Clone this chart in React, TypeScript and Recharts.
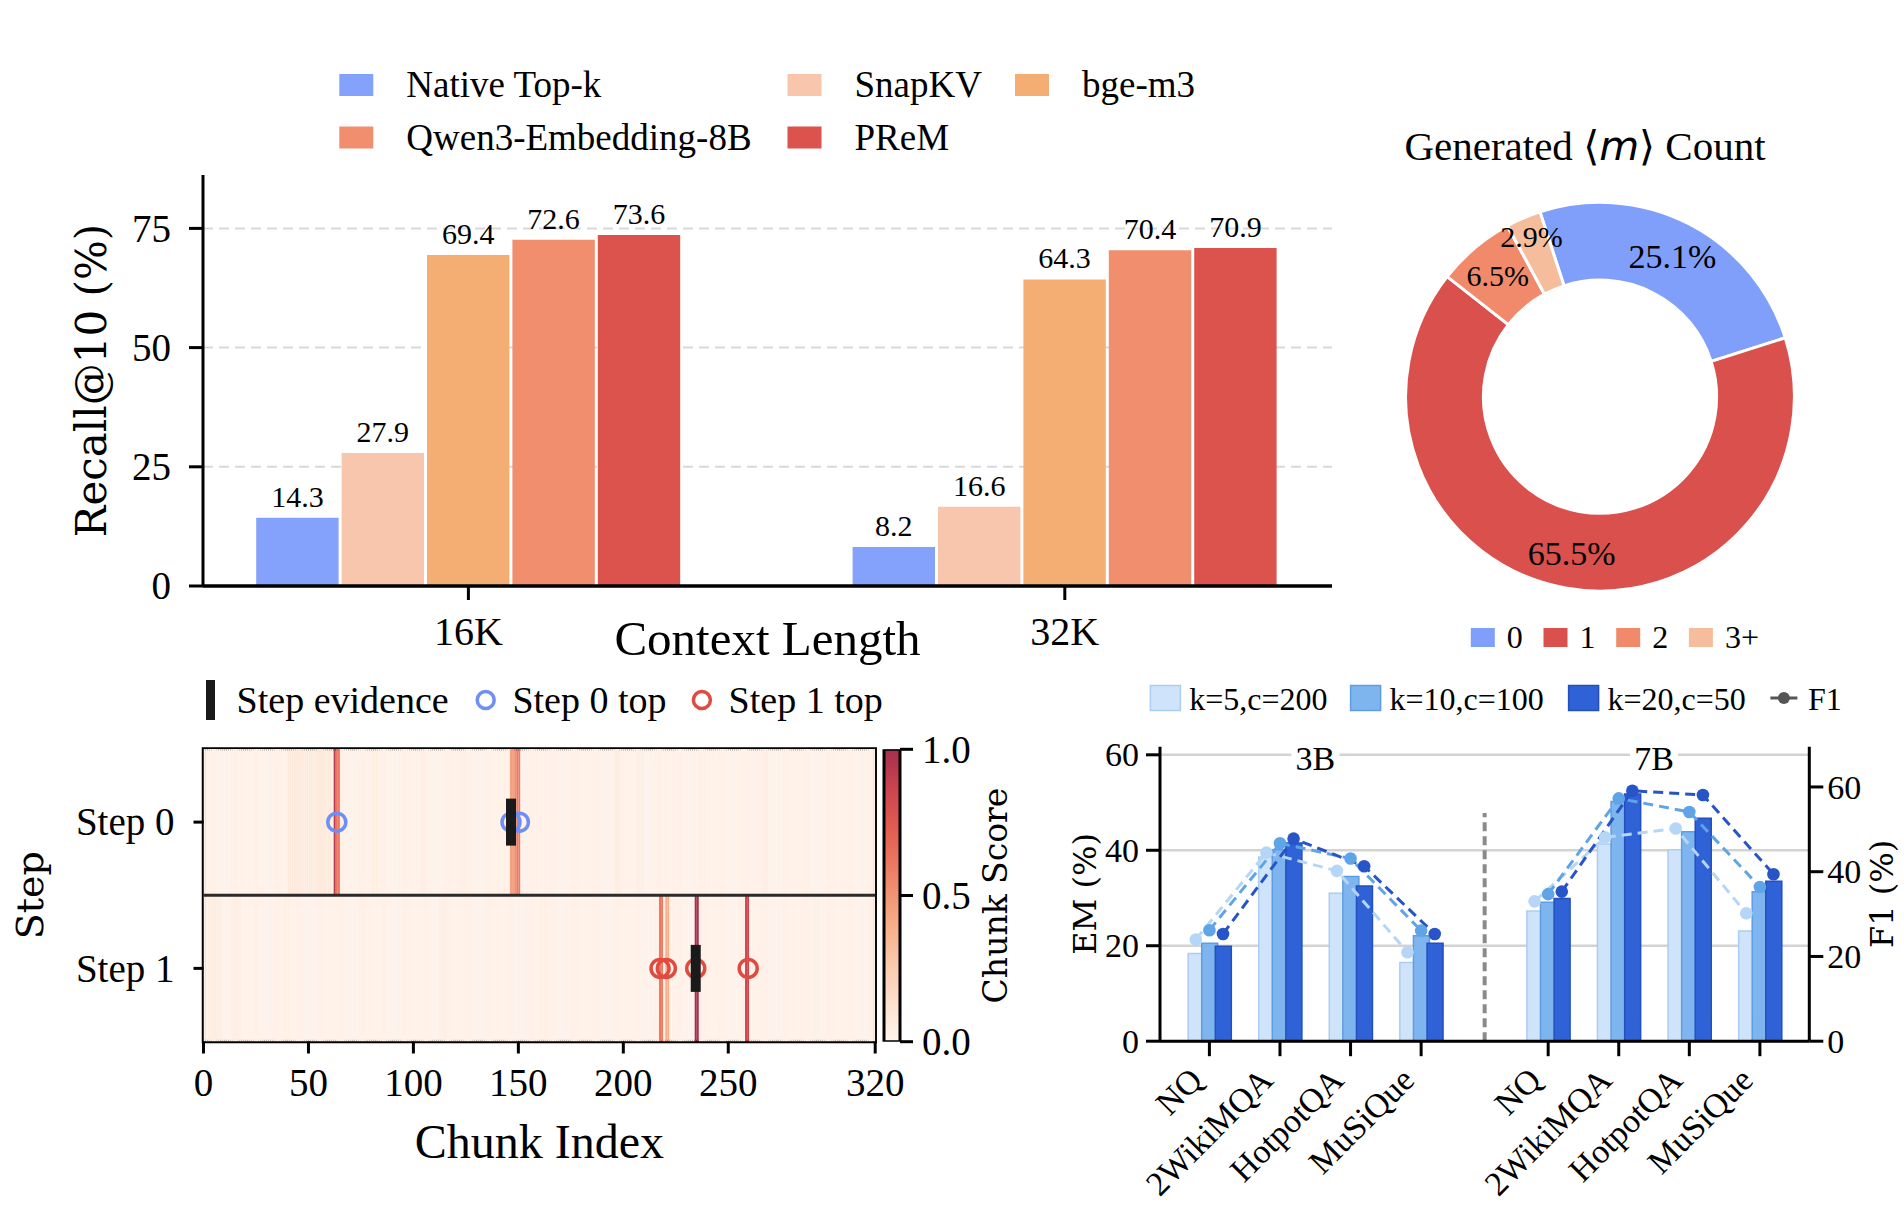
import React from "react";
import {
  ComposedChart,
  Bar,
  Line,
  Scatter,
  XAxis,
  YAxis,
  CartesianGrid,
  PieChart,
  Pie,
  Cell,
  ReferenceLine,
  ReferenceArea,
  ReferenceDot,
  LabelList,
} from "recharts";

const PAGE_W = 1904;
const PAGE_H = 1232;
const SERIF = '"Liberation Serif", "Times New Roman", serif';
const WIDE_SERIF = '"DejaVu Serif", serif';
const MATH_SANS = '"DejaVu Sans", sans-serif';

// ---- Recall@10 by context length ----
const contextLengths = ["16K", "32K"];
const methodNames = ["Native Top-k", "SnapKV", "bge-m3", "Qwen3-Embedding-8B", "PReM"];
const methodKeys = ["native", "snapkv", "bge", "qwen", "prem"];
const methodColors = ["#84a1fb", "#f7c6ad", "#f4ad72", "#f08e6e", "#dc534d"];
const recall16K = [14.3, 27.9, 69.4, 72.6, 73.6];
const recall32K = [8.2, 16.6, 64.3, 70.4, 70.9];
const recallTicks = [0, 25, 50, 75];

// ---- generated <m> count ----
const countLabels = ["0", "1", "2", "3+"];
const countShares = [25.1, 65.5, 6.5, 2.9];
const countColors = ["#7f9ffa", "#d9504c", "#f08a6b", "#f5bd9c"];

// ---- chunk scores per retrieval step ----
const chunkCount = 320;
const chunkTicks = [0, 50, 100, 150, 200, 250, 320];
const stepLabels = ["Step 0", "Step 1"];
const scoreTicks = [0, 0.5, 1];
const step0Base = 0.025;
const step1Base = 0.02;
// faint background bands: [first chunk, last chunk, score]
const step0Bands = [
  [40, 60, 0.07],
  [80, 82, 0.045],
  [103, 105, 0.04],
  [121, 124, 0.04],
  [196, 198, 0.045],
  [206, 209, 0.035],
  [266, 268, 0.04],
];
const step1Bands = [
  [2, 8, 0.045],
  [14, 17, 0.04],
  [38, 40, 0.035],
  [112, 115, 0.04],
  [160, 163, 0.035],
  [290, 293, 0.035],
];
// [chunk, score]
const step0Peaks = [
  [62, 0.92],
  [63, 0.62],
  [64, 0.6],
  [146, 0.45],
  [147, 0.45],
  [148, 0.52],
  [149, 0.6],
  [150, 0.6],
];
const step1Peaks = [
  [217, 0.6],
  [218, 0.6],
  [220, 0.4],
  [221, 0.4],
  [234, 1.0],
  [235, 0.98],
  [258, 0.86],
  [259, 0.86],
];
const step0Evidence = [146];
const step1Evidence = [234];
const step0Top = [63, 146, 150];
const step1Top = [217, 220, 234, 259];

// ---- EM / F1 by retrieval config ----
const datasets = ["NQ", "2WikiMQA", "HotpotQA", "MuSiQue"];
const modelSizes = ["3B", "7B"];
const configNames = ["k=5,c=200", "k=10,c=100", "k=20,c=50"];
const configKeys = ["k5", "k10", "k20"];
// 3B datasets followed by 7B datasets
const emK5 = [18.4, 38.6, 31.0, 16.5, 27.3, 41.3, 40.1, 23.1];
const emK10 = [20.5, 40.1, 34.5, 22.1, 29.1, 50.2, 43.9, 31.3];
const emK20 = [19.9, 41.5, 32.5, 20.5, 29.9, 51.8, 46.7, 33.5];
const f1K5 = [24.0, 44.5, 40.2, 21.0, 33.0, 48.1, 50.2, 30.2];
const f1K10 = [26.2, 46.7, 43.1, 26.1, 34.7, 57.3, 54.1, 36.4];
const f1K20 = [25.3, 47.8, 41.3, 25.3, 35.3, 59.1, 58.1, 39.4];
const emTicks = [0, 20, 40, 60];
const f1Ticks = [0, 20, 40, 60];

const configFills = ["#cfe4fb", "#7fb5ee", "#2f62d6"];
const configEdges = ["#aacdf3", "#5f9de3", "#2450bd"];
const configLines = ["#b6d6f7", "#60a4e8", "#2754c6"];

// colormap used by the heatmap and its colorbar
const scoreStops: [number, string][] = [
  [0, "#fff4ec"],
  [0.1, "#fde6d6"],
  [0.25, "#fbcdb0"],
  [0.4, "#f6ad88"],
  [0.5, "#f29574"],
  [0.6, "#ec7a62"],
  [0.75, "#e05850"],
  [0.87, "#c9444f"],
  [1, "#a42f4d"],
];

function hexToRgb(h: string) {
  const n = parseInt(h.slice(1), 16);
  return [(n >> 16) & 255, (n >> 8) & 255, n & 255];
}

function scoreColor(s: number) {
  for (let i = 1; i < scoreStops.length; i++) {
    const [s1, c1] = scoreStops[i];
    if (s <= s1) {
      const [s0, c0] = scoreStops[i - 1];
      const t = (s - s0) / (s1 - s0);
      const a = hexToRgb(c0);
      const b = hexToRgb(c1);
      const m = a.map((v, k) => Math.round(v + (b[k] - v) * t));
      return `rgb(${m[0]},${m[1]},${m[2]})`;
    }
  }
  return scoreStops[scoreStops.length - 1][1];
}

function buildScores(base: number, bands: number[][], peaks: number[][]) {
  const s = new Array(chunkCount).fill(base);
  bands.forEach(([a, b, v]) => {
    for (let i = a; i <= b; i++) s[i] = v;
  });
  peaks.forEach(([i, v]) => (s[i] = v));
  return s;
}

const axisLine = { stroke: "#000", strokeWidth: 3 };
const tickLine = { stroke: "#000", strokeWidth: 3 };

const bottomTick = (format: (v: number) => string, dy: number, size: number) => (p: any) => (
  <text x={p.x} y={p.y + dy} textAnchor="middle" fontFamily={SERIF} fontSize={size} fill="#000">
    {format(p.payload.value)}
  </text>
);

const sideTick = (format: (v: number) => string, dx: number, size: number, anchor: string) => (p: any) => (
  <text x={p.x + dx} y={p.y} dy="0.34em" textAnchor={anchor} fontFamily={SERIF} fontSize={size} fill="#000">
    {format(p.payload.value)}
  </text>
);

const xTitle = (text: string, dy: number, size: number) => (p: any) => {
  const vb = p.viewBox;
  return (
    <text x={vb.x + vb.width / 2} y={vb.y + dy} textAnchor="middle" fontFamily={SERIF} fontSize={size} fill="#000">
      {text}
    </text>
  );
};

const yTitle = (text: string, x: number, size: number) => (p: any) => {
  const vb = p.viewBox;
  const cy = vb.y + vb.height / 2;
  return (
    <text
      transform={`translate(${x},${cy}) rotate(-90)`}
      textAnchor="middle"
      dy="0.35em"
      fontFamily={WIDE_SERIF}
      fontSize={size}
      fill="#000"
    >
      {text}
    </text>
  );
};

function RecallBars() {
  const rows = [recall16K, recall32K].map((vals, i) => {
    const row: Record<string, number> = { x: i };
    methodKeys.forEach((k, j) => (row[k] = vals[j]));
    return row;
  });
  return (
    <ComposedChart
      width={PAGE_W}
      height={PAGE_H}
      data={rows}
      margin={{ top: 175, left: 123, right: 572, bottom: 586 }}
      barGap={3}
    >
      <CartesianGrid vertical={false} syncWithTicks stroke="#d9d9d9" strokeWidth={2} strokeDasharray="10 6" />
      <XAxis
        dataKey="x"
        type="number"
        domain={[-0.445, 1.448]}
        allowDataOverflow
        ticks={[0, 1]}
        interval={0}
        height={60}
        axisLine={{ stroke: "#000", strokeWidth: 3.5 }}
        tickLine={tickLine}
        tickSize={14}
        tick={bottomTick((v) => contextLengths[v], 43, 40)}
        label={xTitle("Context Length", 69, 49)}
      />
      <YAxis
        type="number"
        domain={[0, 86.2]}
        allowDataOverflow
        ticks={recallTicks}
        interval={0}
        width={80}
        axisLine={axisLine}
        tickLine={tickLine}
        tickSize={14}
        tick={sideTick((v) => String(v), -16, 39, "end")}
        label={yTitle("Recall@10 (%)", 91, 42)}
      />
      {methodKeys.map((k, j) => (
        <Bar key={k} dataKey={k} fill={methodColors[j]} barSize={82.4} isAnimationActive={false}>
          <LabelList
            dataKey={k}
            content={(p: any) => (
              <text
                x={p.x + p.width / 2}
                y={p.y - 11}
                textAnchor="middle"
                fontFamily={SERIF}
                fontSize={30}
                fill="#000"
              >
                {Number(p.value).toFixed(1)}
              </text>
            )}
          />
        </Bar>
      ))}
    </ComposedChart>
  );
}

const RAD = Math.PI / 180;

const renderShare = (p: any) => {
  const small = p.percent < 0.05;
  const r = p.outerRadius * (small ? 0.895 : 0.815);
  const x = p.cx + r * Math.cos(-p.midAngle * RAD);
  const y = p.cy + r * Math.sin(-p.midAngle * RAD);
  const v = countShares[p.index];
  return (
    <text
      key={`share-${p.index}`}
      x={x}
      y={y}
      dy="0.35em"
      textAnchor="middle"
      fontFamily={SERIF}
      fontSize={p.percent < 0.1 ? 30 : 34}
      fill="#000"
    >
      {`${v.toFixed(1)}%`}
    </text>
  );
};

function CountDonut() {
  const data = countLabels.map((name, i) => ({ name, value: countShares[i] }));
  return (
    <PieChart width={PAGE_W} height={PAGE_H} margin={{ top: 0, left: 0, right: 0, bottom: 0 }}>
      <Pie
        data={data}
        dataKey="value"
        cx={1600}
        cy={396.7}
        innerRadius={116.6}
        outerRadius={194.4}
        startAngle={108}
        endAngle={-252}
        stroke="#fff"
        strokeWidth={3}
        label={renderShare}
        labelLine={false}
        isAnimationActive={false}
      >
        {countColors.map((c, i) => (
          <Cell key={i} fill={c} />
        ))}
      </Pie>
    </PieChart>
  );
}

const rowCenter = (step: number) => stepLabels.length - step - 0.5;

const ringShape = (color: string) => (p: any) =>
  <circle cx={p.cx} cy={p.cy} r={9} fill="none" stroke={color} strokeWidth={3.5} />;

const evidenceShape = (p: any) => <rect x={p.cx - 5} y={p.cy - 23.5} width={10} height={47} fill="#1a1a1a" />;

function ChunkHeatmap() {
  const scores0 = buildScores(step0Base, step0Bands, step0Peaks);
  const scores1 = buildScores(step1Base, step1Bands, step1Peaks);
  const rows = scores0.map((_, i) => ({ x: i + 0.5, s0: 1, s1: 1 }));
  const mark = (chunks: number[], step: number) => chunks.map((c) => ({ x: c + 0.5, y: rowCenter(step) }));
  const tops0 = mark(step0Top, 0);
  const tops1 = mark(step1Top, 1);
  const evidence = [...mark(step0Evidence, 0), ...mark(step1Evidence, 1)];
  return (
    <ComposedChart
      width={PAGE_W}
      height={PAGE_H}
      data={rows}
      margin={{ top: 749, left: 123.5, right: 1028.8, bottom: 130.5 }}
    >
      <XAxis
        dataKey="x"
        type="number"
        domain={[0, chunkCount]}
        allowDataOverflow
        ticks={chunkTicks}
        interval={0}
        height={60}
        axisLine={false}
        tickLine={tickLine}
        tickSize={12}
        tick={bottomTick((v) => String(v), 40.5, 39)}
        label={xTitle("Chunk Index", 116.5, 48)}
      />
      <XAxis xAxisId="mk" dataKey="x" type="number" domain={[0, chunkCount]} allowDataOverflow hide />
      <YAxis
        dataKey="y"
        type="number"
        domain={[0, 2]}
        allowDataOverflow
        ticks={[0.5, 1.5]}
        interval={0}
        width={80}
        axisLine={false}
        tickLine={tickLine}
        tickSize={10}
        tick={sideTick((v) => stepLabels[stepLabels.length - 1 - Math.floor(v)], -17, 39, "end")}
        label={yTitle("Step", 30, 38)}
      />
      <Bar dataKey="s1" stackId="h" barSize={2.099} isAnimationActive={false}>
        {scores1.map((s, i) => (
          <Cell key={i} fill={scoreColor(s)} />
        ))}
      </Bar>
      <Bar dataKey="s0" stackId="h" barSize={2.099} isAnimationActive={false}>
        {scores0.map((s, i) => (
          <Cell key={i} fill={scoreColor(s)} />
        ))}
      </Bar>
      <ReferenceLine y={1} stroke="#2b2b2b" strokeWidth={3} />
      <ReferenceArea x1={0} x2={chunkCount} y1={0} y2={2} fill="none" stroke="#000" strokeWidth={3.5} />
      <Scatter xAxisId="mk" dataKey="y" data={tops0} shape={ringShape("#6f8ff4")} isAnimationActive={false} />
      <Scatter xAxisId="mk" dataKey="y" data={tops1} shape={ringShape("#df4b40")} isAnimationActive={false} />
      <Scatter xAxisId="mk" dataKey="y" data={evidence} shape={evidenceShape} isAnimationActive={false} />
    </ComposedChart>
  );
}

function ScoreColorbar() {
  return (
    <ComposedChart
      width={PAGE_W}
      height={PAGE_H}
      data={[{ name: "score", v: 1 }]}
      margin={{ top: 749.3, left: 884, right: 924, bottom: 190.3 }}
      barCategoryGap={0}
    >
      <XAxis dataKey="name" hide />
      <YAxis
        orientation="right"
        type="number"
        domain={[0, 1]}
        allowDataOverflow
        ticks={scoreTicks}
        interval={0}
        width={80}
        axisLine={false}
        tickLine={tickLine}
        tickSize={13}
        tick={sideTick((v) => v.toFixed(1), 7, 39, "start")}
        label={yTitle("Chunk Score", 995, 33)}
      />
      <Bar dataKey="v" fill="url(#chunkScoreGradient)" stroke="#000" strokeWidth={3} isAnimationActive={false} />
    </ComposedChart>
  );
}

// x layout of the grouped EM/F1 chart
const GROUP_GAP = 0.8;
const X4_MIN = -0.7;
const X4_MAX = 8.5;
const PLOT4_W = 649.3;
const BAR4_SIZE = 16;
const BAR4_GAP = -2.4;
const groupStride = datasets.length + GROUP_GAP;
const slot = (g: number, i: number) => g * groupStride + i;
const positions4 = modelSizes.flatMap((_, g) => datasets.map((__, i) => slot(g, i)));
const separatorX = (slot(0, datasets.length - 1) + slot(1, 0)) / 2;
const barStepUnits = (BAR4_SIZE + BAR4_GAP) / (PLOT4_W / (X4_MAX - X4_MIN));

const datasetTick = (p: any) => {
  const idx = positions4.findIndex((v) => Math.abs(v - p.payload.value) < 1e-6);
  const name = datasets[idx % datasets.length];
  return (
    <text
      transform={`translate(${p.x - 5},${p.y + 24}) rotate(-45)`}
      textAnchor="end"
      fontFamily={SERIF}
      fontSize={34}
      fill="#000"
    >
      {name}
    </text>
  );
};

const sizeTag = (text: string) => (p: any) => {
  const vb = p.viewBox;
  const x = vb.x + vb.width / 2;
  const y = vb.y + vb.height / 2;
  return (
    <g>
      <rect x={x - 24} y={y - 17} width={48} height={34} fill="#fff" />
      <text x={x} y={y} dy="0.35em" textAnchor="middle" fontFamily={SERIF} fontSize={34} fill="#000">
        {text}
      </text>
    </g>
  );
};

function EmF1Chart() {
  const emSeries = [emK5, emK10, emK20];
  const f1Series = [f1K5, f1K10, f1K20];
  const rows = positions4.map((x, idx) => {
    const row: Record<string, number> = { x };
    configKeys.forEach((k, c) => (row[k] = emSeries[c][idx]));
    return row;
  });
  const f1Lines = configKeys.map((_, c) => {
    const shift = (c - 1) * barStepUnits;
    const pts: { x: number; f1: number | null }[] = [];
    modelSizes.forEach((__, g) => {
      if (g > 0) pts.push({ x: separatorX, f1: null });
      datasets.forEach((___, i) => pts.push({ x: slot(g, i) + shift, f1: f1Series[c][g * datasets.length + i] }));
    });
    return pts;
  });
  return (
    <ComposedChart
      width={PAGE_W}
      height={PAGE_H}
      data={rows}
      margin={{ top: 746.7, left: 1080, right: 14.7, bottom: 130.8 }}
      barGap={BAR4_GAP}
    >
      <CartesianGrid vertical={false} syncWithTicks stroke="#d3d3d3" strokeWidth={2.5} />
      <XAxis
        dataKey="x"
        type="number"
        domain={[X4_MIN, X4_MAX]}
        allowDataOverflow
        ticks={positions4}
        interval={0}
        height={60}
        axisLine={axisLine}
        tickLine={tickLine}
        tickSize={15}
        tick={datasetTick}
      />
      <XAxis xAxisId="pts" dataKey="x" type="number" domain={[X4_MIN, X4_MAX]} allowDataOverflow hide />
      <YAxis
        type="number"
        domain={[0, 61.7]}
        allowDataOverflow
        ticks={emTicks}
        interval={0}
        width={80}
        axisLine={axisLine}
        tickLine={tickLine}
        tickSize={14}
        tick={sideTick((v) => String(v), -5, 34, "end")}
        label={yTitle("EM (%)", 1085, 32)}
      />
      <YAxis
        yAxisId="f1"
        orientation="right"
        type="number"
        domain={[0, 69.5]}
        allowDataOverflow
        ticks={f1Ticks}
        interval={0}
        width={80}
        axisLine={axisLine}
        tickLine={tickLine}
        tickSize={14}
        tick={sideTick((v) => String(v), 2, 34, "start")}
        label={yTitle("F1 (%)", 1882, 32)}
      />
      <ReferenceLine
        segment={[
          { x: separatorX, y: 0 },
          { x: separatorX, y: 47.8 },
        ]}
        stroke="#8a8a8a"
        strokeWidth={4}
        strokeDasharray="9 5"
      />
      {configKeys.map((k, c) => (
        <Bar
          key={k}
          dataKey={k}
          barSize={BAR4_SIZE}
          fill={configFills[c]}
          stroke={configEdges[c]}
          strokeWidth={1.5}
          isAnimationActive={false}
        />
      ))}
      {configKeys.map((k, c) => (
        <Line
          key={`f1-${k}`}
          data={f1Lines[c]}
          xAxisId="pts"
          yAxisId="f1"
          dataKey="f1"
          stroke={configLines[c]}
          strokeWidth={3}
          strokeDasharray="10 6"
          connectNulls={false}
          activeDot={false}
          isAnimationActive={false}
          dot={(p: any) =>
            p.value == null || p.cy == null ? (
              <g key={`d${c}-${p.index}`} />
            ) : (
              <circle key={`d${c}-${p.index}`} cx={p.cx} cy={p.cy} r={6.3} fill={configLines[c]} />
            )
          }
        />
      ))}
      {modelSizes.map((m, g) => (
        <ReferenceDot
          key={m}
          x={slot(g, (datasets.length - 1) / 2)}
          y={59.3}
          r={1}
          fill="none"
          stroke="none"
          label={sizeTag(m)}
        />
      ))}
    </ComposedChart>
  );
}

function Legends() {
  const recallCols = [339.3, 787.5, 1015];
  const recallRows = [85, 137.5];
  const countX0 = 1470.8;
  const countStep = 72.7;
  const cfgX = [1150.4, 1350.6, 1568.6];
  return (
    <svg
      width={PAGE_W}
      height={PAGE_H}
      style={{ position: "absolute", left: 0, top: 0, pointerEvents: "none" }}
    >
      <defs>
        <linearGradient id="chunkScoreGradient" x1="0" y1="1" x2="0" y2="0">
          {scoreStops.map(([s, c]) => (
            <stop key={s} offset={`${s * 100}%`} stopColor={c} />
          ))}
        </linearGradient>
      </defs>

      {/* method legend */}
      {methodNames.map((name, j) => {
        const x = recallCols[j % 3];
        const y = recallRows[Math.floor(j / 3)];
        return (
          <g key={name}>
            <rect x={x} y={y - 11} width={34} height={22} fill={methodColors[j]} />
            <text x={x + 67} y={y + 12} fontFamily={SERIF} fontSize={37} fill="#000">
              {name}
            </text>
          </g>
        );
      })}

      {/* donut title and legend */}
      <text x={1585} y={159.6} textAnchor="middle" fontFamily={SERIF} fontSize={41} fill="#000">
        {"Generated "}
        <tspan fontFamily={MATH_SANS}>⟨</tspan>
        <tspan fontFamily={MATH_SANS} fontStyle="italic">
          m
        </tspan>
        <tspan fontFamily={MATH_SANS}>⟩</tspan>
        {" Count"}
      </text>
      {countLabels.map((l, i) => {
        const x = countX0 + i * countStep;
        return (
          <g key={l}>
            <rect x={x} y={628} width={24} height={19} fill={countColors[i]} />
            <text x={x + 36} y={648} fontFamily={SERIF} fontSize={32} fill="#000">
              {l}
            </text>
          </g>
        );
      })}

      {/* heatmap legend */}
      <rect x={206} y={680} width={9} height={40} fill="#1a1a1a" />
      <text x={236.6} y={712.5} fontFamily={SERIF} fontSize={38} fill="#000">
        Step evidence
      </text>
      <circle cx={485.7} cy={700} r={8.5} fill="none" stroke="#6f8ff4" strokeWidth={3.5} />
      <text x={512.4} y={712.5} fontFamily={SERIF} fontSize={38} fill="#000">
        Step 0 top
      </text>
      <circle cx={701.9} cy={700} r={8.5} fill="none" stroke="#df4b40" strokeWidth={3.5} />
      <text x={728.6} y={712.5} fontFamily={SERIF} fontSize={38} fill="#000">
        Step 1 top
      </text>

      {/* config legend */}
      {configNames.map((name, c) => (
        <g key={name}>
          <rect
            x={cfgX[c]}
            y={685.5}
            width={30}
            height={25}
            fill={configFills[c]}
            stroke={configEdges[c]}
            strokeWidth={1.5}
          />
          <text x={cfgX[c] + 38.8} y={709.5} fontFamily={SERIF} fontSize={32} fill="#000">
            {name}
          </text>
        </g>
      ))}
      <line x1={1770.4} y1={698} x2={1797.4} y2={698} stroke="#555" strokeWidth={3} />
      <circle cx={1783.9} cy={698} r={6} fill="#555" />
      <text x={1808} y={709.5} fontFamily={SERIF} fontSize={32} fill="#000">
        F1
      </text>
    </svg>
  );
}

const layer: React.CSSProperties = { position: "absolute", left: 0, top: 0 };

export default function App() {
  return (
    <div
      style={{
        position: "absolute",
        left: 0,
        top: 0,
        width: PAGE_W,
        height: PAGE_H,
        background: "#fff",
        overflow: "hidden",
      }}
    >
      <div style={layer}>
        <RecallBars />
      </div>
      <div style={layer}>
        <CountDonut />
      </div>
      <div style={layer}>
        <ChunkHeatmap />
      </div>
      <div style={layer}>
        <ScoreColorbar />
      </div>
      <div style={layer}>
        <EmF1Chart />
      </div>
      <Legends />
    </div>
  );
}
